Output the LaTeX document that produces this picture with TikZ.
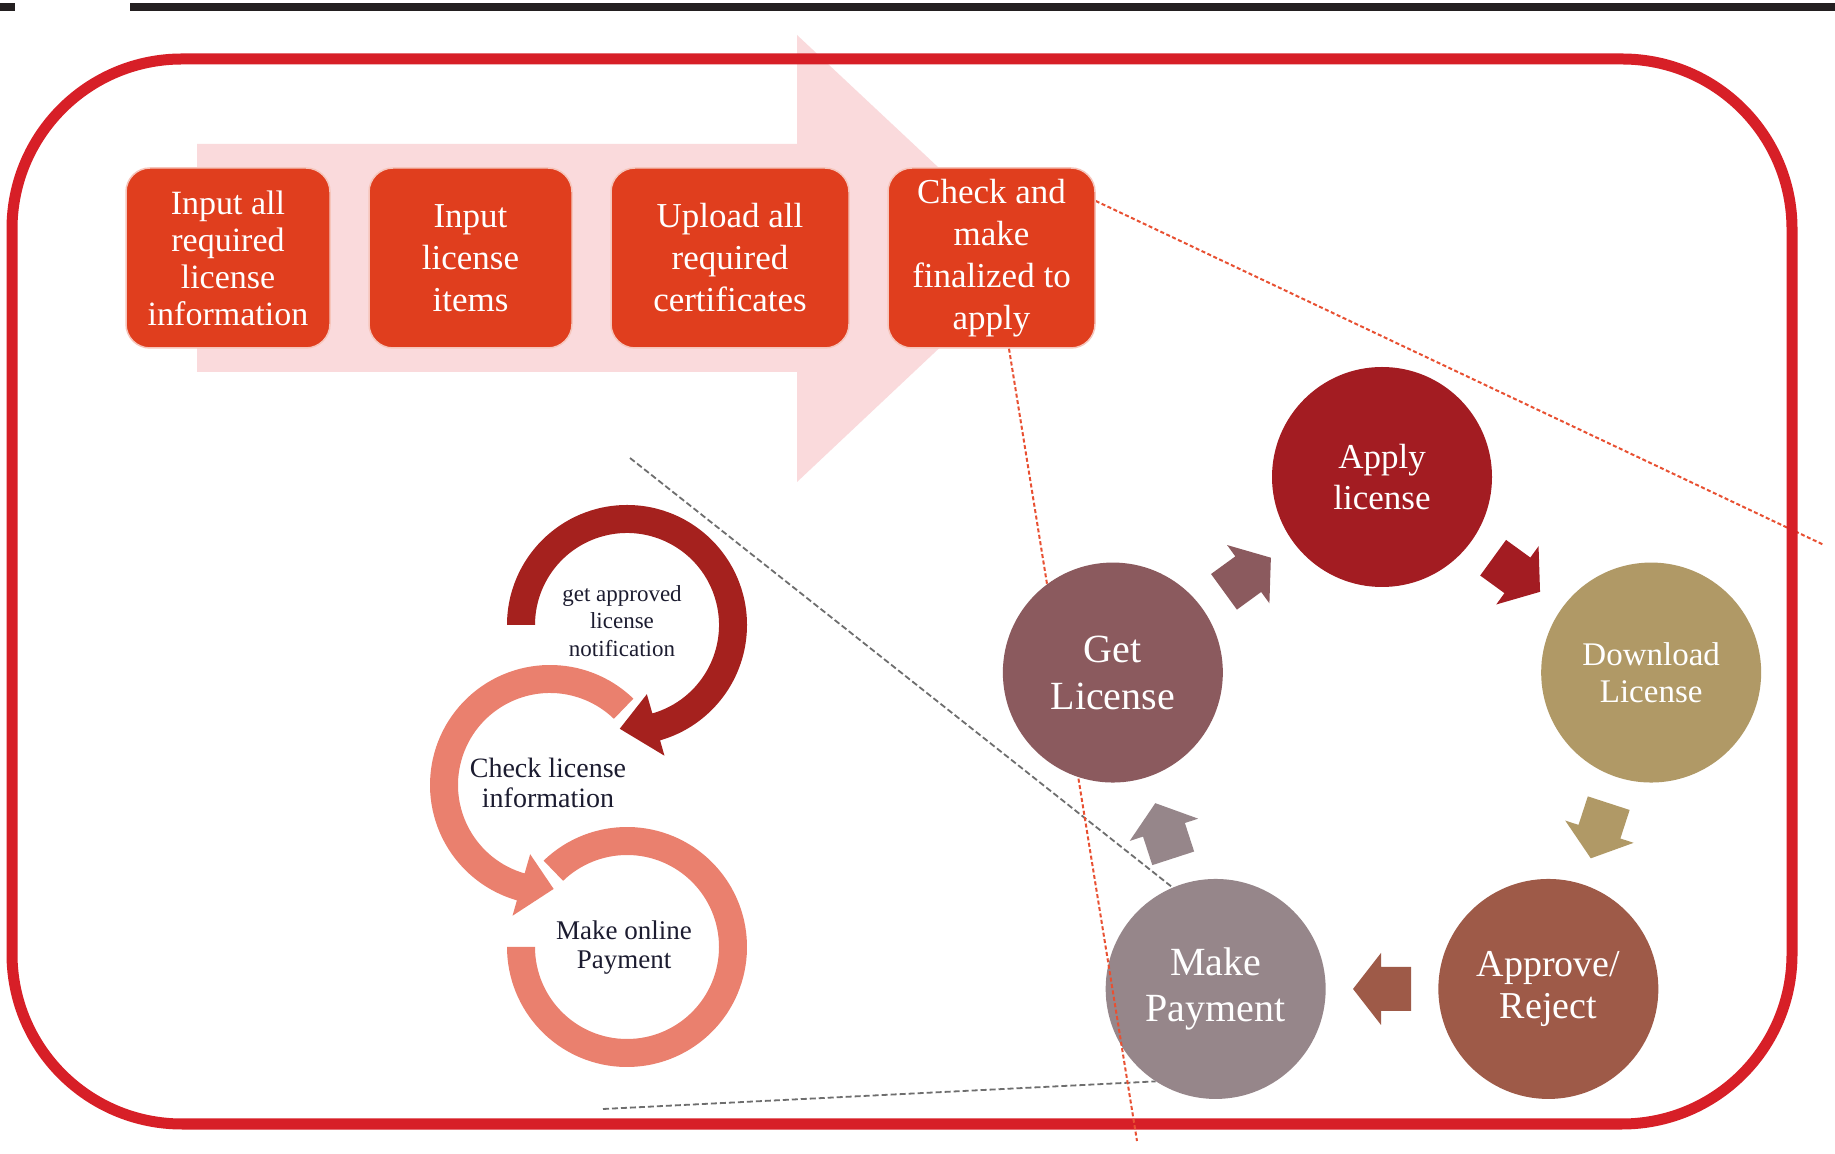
\documentclass[tikz,border=0pt]{standalone}
\usepackage{fontspec}
\setmainfont{Liberation Serif}
\usetikzlibrary{calc,backgrounds}
\definecolor{framered}{RGB}{215,31,39}
\definecolor{pinkarrow}{RGB}{250,218,220}
\definecolor{boxred}{RGB}{224,62,30}
\definecolor{dotred}{RGB}{232,80,50}
\definecolor{dotgray}{RGB}{110,110,110}
\definecolor{capply}{RGB}{163,28,34}
\definecolor{cdown}{RGB}{176,153,102}
\definecolor{cappr}{RGB}{158,90,72}
\definecolor{cmake}{RGB}{150,134,138}
\definecolor{cget}{RGB}{139,90,94}
\definecolor{ringdark}{RGB}{165,33,30}
\definecolor{ringsalmon}{RGB}{234,128,110}
\definecolor{looptext}{RGB}{28,28,48}
\definecolor{topbar}{RGB}{35,31,32}
\newcommand{\blockarr}[3]{\fill[#3, shift={(#1)}, rotate=#2] (-29,-22) -- (1,-22) -- (1,-36) -- (29,0) -- (1,36) -- (1,22) -- (-29,22) -- cycle;}
\begin{document}
\begin{tikzpicture}[x=1pt,y=1pt,
  stepbox/.style={rectangle, rounded corners=24pt, fill=boxred, draw=white!70!boxred, line width=1.5pt,
    minimum width=#1, minimum height=180pt, text=white, align=center, inner sep=0pt,
    font=\fontsize{35}{42}\selectfont},
  circ/.style={circle, minimum size=220pt, inner sep=0pt, text=white, align=center},
  dotr/.style={draw=dotred, line width=2pt, dash pattern=on 4pt off 2.5pt},
  dotg/.style={draw=dotgray, line width=1.8pt, dash pattern=on 6pt off 3pt},
  looptxt/.style={text=looptext, align=center, inner sep=0pt}]
\useasboundingbox (0,0) rectangle (1835,1153);

% top bar
\fill[topbar] (130,1142) rectangle (1835,1150);
\fill[topbar] (0,1142) rectangle (15,1150);

% process boxes
\node[stepbox=204pt, font=\fontsize{34}{37}\selectfont] (b1) at (228,895) {Input all\\required\\license\\information};
\node[stepbox=203pt] (b2) at (470.5,895) {Input\\license\\items};
\node[stepbox=238pt] (b3) at (730,895) {Upload all\\required\\certificates};
\node[stepbox=207pt] (b4) at (991.5,895) {Check and\\make\\finalized to\\apply};

% free ends of the dotted lines
\coordinate (r1end) at (1824,608);
\coordinate (r2end) at (1137,12);
\coordinate (g1s) at (630,695);
\coordinate (g2s) at (603,44);

% cycle circles
\coordinate (pc) at (1382,393);
\node[circ, fill=capply, font=\fontsize{35}{41}\selectfont] (ap) at ($(pc)+(90:283)$) {Apply\\license};
\node[circ, fill=cdown, font=\fontsize{33}{37}\selectfont] (dl) at ($(pc)+(18:283)$) {Download\\License};
\node[circ, fill=cappr, font=\fontsize{38}{42}\selectfont] (ar) at ($(pc)+(-54:283)$) {Approve/\\Reject};
\node[circ, fill=cmake, font=\fontsize{40}{46}\selectfont] (mp) at ($(pc)+(-126:283)$) {Make\\Payment};
\draw[dotr] ([xshift=17.5pt]b4.south) -- (r2end);
\node[circ, fill=cget, font=\fontsize{40}{47}\selectfont] (gl) at ($(pc)+(162:283)$) {Get\\License};

% block arrows between circles
\blockarr{$(ap)!0.5!(dl)$}{-36}{capply}
\blockarr{$(dl)!0.5!(ar)$}{-108}{cdown}
\blockarr{$(ar)!0.5!(mp)$}{180}{cappr}
\blockarr{$(mp)!0.5!(gl)$}{108}{cmake}
\blockarr{$(gl)!0.5!(ap)$}{36}{cget}

\begin{scope}[on background layer]
  \fill[white] (0,0) rectangle (1835,1153);
  \fill[pinkarrow] (197,1009) -- (797,1009) -- (797,1118) -- (1035,895) -- (797,671) -- (797,781) -- (197,781) -- cycle;
  \draw[dotr] ([yshift=57pt]b4.east) -- (r1end);
  \draw[dotg] (g1s) -- (mp.113);
  \draw[dotg] (g2s) -- (mp.237);
  \draw[framered, line width=11pt, rounded corners=170pt] (12,29) rectangle (1792,1094);
\end{scope}

% circular arrows (left)
\begin{scope}[shift={(627,206)}]
  \fill[ringsalmon] (134:120) arc[start angle=134, end angle=-180, radius=120] -- (180:92) arc[start angle=-180, end angle=134, radius=92] -- cycle;
\end{scope}
\begin{scope}[shift={(550,368)}]
  \fill[ringsalmon] (46:120) arc[start angle=46, end angle=254, radius=120] -- (254:136) -- (272:104) -- (254:72) -- (254:92) arc[start angle=254, end angle=46, radius=92] -- cycle;
\end{scope}
\begin{scope}[shift={(627,528)}]
  \fill[ringdark] (180:120) arc[start angle=180, end angle=-74, radius=120] -- (-74:136) -- (-94:104) -- (-74:72) -- (-74:92) arc[start angle=-74, end angle=180, radius=92] -- cycle;
\end{scope}

\node[looptxt, font=\fontsize{23}{27.5}\selectfont] (t1) at (622,532) {get approved\\license\\notification};
\node[looptxt, font=\fontsize{28}{30}\selectfont] (t2) at (548,370) {Check license\\information};
\node[looptxt, font=\fontsize{27}{29.5}\selectfont] (t3) at (624,205.5) {Make online\\Payment};
\end{tikzpicture}
\end{document}
